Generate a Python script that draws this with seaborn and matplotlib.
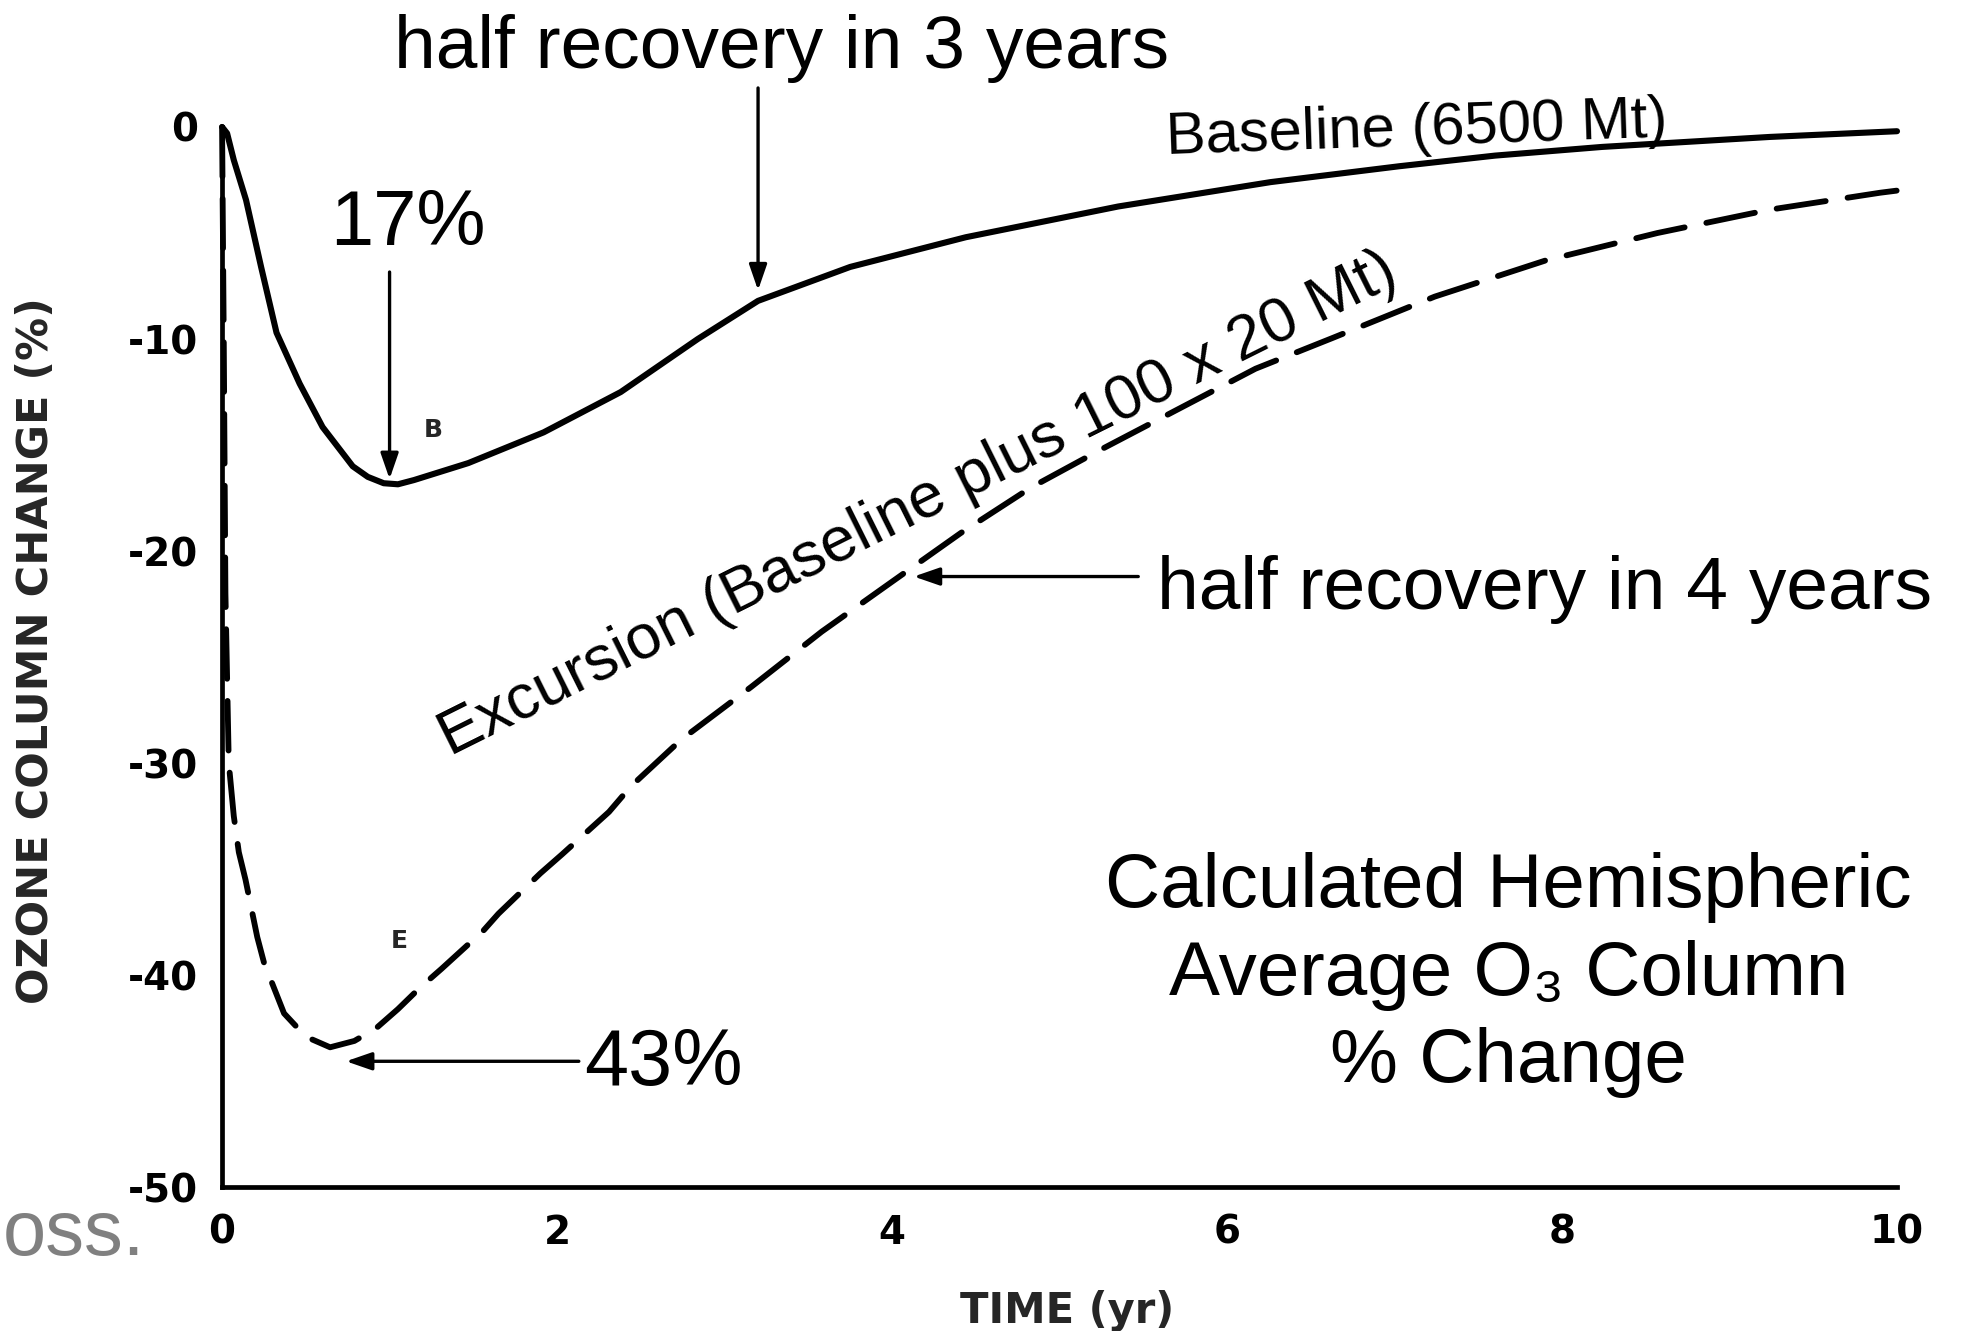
import numpy as np
import pandas as pd
import matplotlib
matplotlib.use("Agg")
import matplotlib.pyplot as plt
import seaborn as sns

# ---------------- data ----------------
baseline_t = [0, 0.03, 0.07, 0.143, 0.233, 0.325, 0.463, 0.60, 0.78, 0.87, 0.965,
              1.05, 1.146, 1.47, 1.92, 2.38, 2.84, 3.2, 3.75, 4.44, 5.35, 6.26,
              7.03, 7.6, 8.24, 9.24, 10.0]
baseline_v = [0, -0.3, -1.56, -3.44, -6.6, -9.7, -12.1, -14.15, -16.0, -16.5, -16.8,
              -16.85, -16.65, -15.85, -14.4, -12.5, -10.0, -8.2, -6.6, -5.2, -3.75, -2.6,
              -1.85, -1.35, -0.94, -0.47, -0.2]

excursion_t = [0, 0.01, 0.02, 0.04, 0.07, 0.10, 0.14, 0.21, 0.25, 0.37, 0.50, 0.645,
               0.79, 0.92, 1.05, 1.18, 1.31, 1.56, 1.65, 1.90, 2.03, 2.31, 2.44, 2.74,
               3.16, 3.58, 3.99, 4.41, 4.83, 5.25, 5.71, 6.17, 6.63, 7.24, 7.90, 8.57,
               9.24, 9.90, 10.0]
excursion_v = [0, -10, -22, -30, -32.5, -34.2, -35.5, -38.2, -39.4, -41.8, -42.9, -43.4,
               -43.1, -42.5, -41.6, -40.6, -39.7, -37.9, -37.1, -35.2, -34.3, -32.3, -31.1,
               -28.9, -26.4, -23.8, -21.5, -19.15, -17.0, -15.2, -13.3, -11.4, -9.95, -8.0,
               -6.3, -5.0, -3.9, -3.1, -3.0]

x_ticks = [0, 1, 2, 3, 4, 5, 6, 7, 8, 9, 10]
x_tick_labels = ["0", "", "2", "", "4", "", "6", "", "8", "", "10"]
y_ticks = [0, -10, -20, -30, -40, -50]
y_tick_labels = ["0", "-10", "-20", "-30", "-40", "-50"]

# ---------------- style ----------------
sns.set_theme(style="white")
plt.rcParams["font.family"] = ["Liberation Sans", "DejaVu Sans"]
TXT = dict(family=["Liberation Sans", "DejaVu Sans"], fontweight="normal", color="black")
BOLD = dict(family=["DejaVu Sans"], fontweight="bold")

fig = plt.figure(figsize=(19.74, 13.31), dpi=100)
ax = fig.add_axes([0.1125, 0.108, 0.8485, 0.7966])

df_b = pd.DataFrame({"t": baseline_t, "v": baseline_v})
df_e = pd.DataFrame({"t": excursion_t, "v": excursion_v})

sns.lineplot(data=df_b, x="t", y="v", ax=ax, color="black", lw=4.4,
             sort=False, estimator=None)
sns.lineplot(data=df_e, x="t", y="v", ax=ax, color="black", lw=4.2,
             sort=False, estimator=None)
ax.lines[-1].set_linestyle((0, (8.5, 3.8)))
for ln in ax.lines:
    ln.set_clip_on(False)
    ln.set_solid_capstyle("round")
    ln.set_solid_joinstyle("round")
    ln.set_dash_capstyle("round")
    ln.set_dash_joinstyle("round")

ax.set_xlim(0, 10)
ax.set_ylim(-50, 0)
for s in ["top", "right"]:
    ax.spines[s].set_visible(False)
for s in ["left", "bottom"]:
    ax.spines[s].set_linewidth(3.4)
    ax.spines[s].set_color("black")

ax.set_xticks(x_ticks)
ax.set_xticklabels(x_tick_labels, fontsize=28, **BOLD)
ax.set_yticks(y_ticks)
ax.set_yticklabels(y_tick_labels, fontsize=28, **BOLD)
ax.tick_params(axis="x", direction="in", length=22, width=1.8, pad=19, colors="black")
ax.tick_params(axis="y", direction="in", length=27, width=1.8, pad=17, colors="black")
ax.set_xlabel("")
ax.set_ylabel("")

fig.text(0.018, 0.511, "OZONE COLUMN CHANGE (%)", rotation=90, ha="center",
         va="center", fontsize=31, **BOLD)
fig.text(0.5406, 0.015, "TIME (yr)", ha="center", va="center", fontsize=30, **BOLD)

# ---------------- annotations ----------------
arrow_kw = dict(arrowstyle="-|>,head_length=1.3,head_width=0.45", color="black",
                lw=2.4, shrinkA=0, shrinkB=0)

ax.text(3.34, 3.7, "half recovery in 3 years", ha="center", va="center",
        fontsize=54, clip_on=False, **TXT)
ax.annotate("", xy=(3.2, -7.7), xytext=(3.2, 1.84), arrowprops=arrow_kw,
            annotation_clip=False)

ax.text(1.11, -4.6, "17%", ha="center", va="center", fontsize=56, **TXT)
ax.annotate("", xy=(1.0, -16.6), xytext=(1.0, -6.84), arrowprops=arrow_kw)

ax.text(2.16, -44.2, "43%", ha="left", va="center", fontsize=57, **TXT)
ax.annotate("", xy=(0.74, -44.06), xytext=(2.13, -44.06), arrowprops=arrow_kw)

ax.text(5.58, -21.8, "half recovery in 4 years", ha="left", va="center",
        fontsize=54, clip_on=False, **TXT)
ax.annotate("", xy=(4.13, -21.2), xytext=(5.47, -21.2), arrowprops=arrow_kw)

ax.text(7.13, -0.12, "Baseline (6500 Mt)", ha="center", va="center", rotation=2,
        fontsize=43, clip_on=False, **TXT)
ax.text(4.2, -18.5, "Excursion (Baseline plus 100 x 20 Mt)", ha="center",
        va="baseline", rotation=26.5, rotation_mode="anchor", fontsize=45.5, **TXT)

ax.text(7.68, -40.0, "Calculated Hemispheric\nAverage O\u2083 Column\n% Change",
        ha="center", va="center", multialignment="center", linespacing=1.3,
        fontsize=55, **TXT)

ax.text(1.26, -14.3, "B", ha="center", va="center", fontsize=18, **BOLD)
ax.text(1.06, -38.4, "E", ha="center", va="center", fontsize=18, **BOLD)

fig.text(0.0735, 0.057, "oss.", ha="right", va="baseline", fontsize=56,
         color="#808080", family=["Liberation Sans", "DejaVu Sans"])

fig.savefig("out.png", dpi=100, facecolor="white")
